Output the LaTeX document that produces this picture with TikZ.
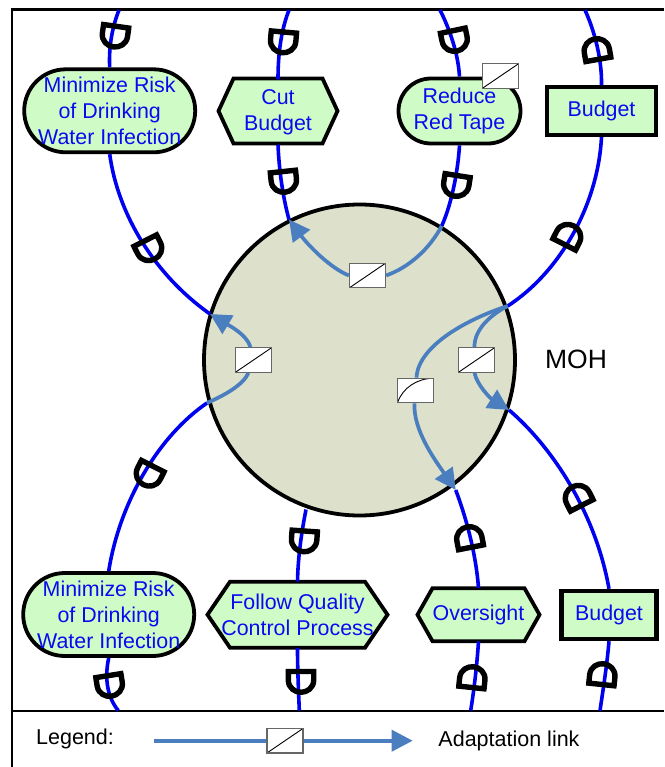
\documentclass[tikz,border=0pt]{standalone}
\usepackage{fontspec}
\setmainfont{Liberation Sans}
\usetikzlibrary{arrows.meta}
\definecolor{goalfill}{HTML}{CFFCC6}
\definecolor{mohfill}{HTML}{DDE1CC}
\definecolor{linkblue}{HTML}{0000F0}
\definecolor{adapt}{HTML}{4A7EBF}
\definecolor{textblue}{HTML}{0A0AF0}
\newcommand{\hexoutline}[5]{% cx cy w h inset
  \draw[draw=black,line width=3.8pt,fill=goalfill,line join=miter]
    ({#1-#3/2},#2) -- ({#1-#3/2+#5},{#2-#4/2}) -- ({#1+#3/2-#5},{#2-#4/2}) -- ({#1+#3/2},#2)
    -- ({#1+#3/2-#5},{#2+#4/2}) -- ({#1-#3/2+#5},{#2+#4/2}) -- cycle;}
\tikzset{
  goalbase/.style={text=textblue,align=center,inner sep=0pt,
    font=\fontsize{21.4}{26}\selectfont},
  softgoal/.style 2 args={goalbase,draw=black,line width=3.8pt,fill=goalfill,rectangle,rounded corners=#2,minimum width=#1,minimum height=2*#2},
  hexgoal/.style 2 args={goalbase,rectangle,minimum width=#1,minimum height=#2},
  resource/.style 2 args={goalbase,draw=black,fill=goalfill,rectangle,line width=4.4pt,minimum width=#1,minimum height=#2},
  dep/.style={draw=linkblue,line width=3.6pt},
  adaptlink/.style={draw=adapt,line width=3.7pt},
  adapthead/.style={adaptlink,-{Triangle[length=21pt,width=21pt]}},
  lawbox/.style={rectangle,draw=black!60,line width=1.2pt,fill=white,minimum width=36pt,minimum height=24.5pt,inner sep=0pt},
  linbox/.style={lawbox,path picture={\draw[black,line width=0.9pt]
     (path picture bounding box.south west) -- (path picture bounding box.north east);}},
  curvebox/.style={lawbox,path picture={\draw[black,line width=0.9pt]
     (path picture bounding box.south west) .. controls ([xshift=5pt,yshift=15pt]path picture bounding box.south west)
     and ([xshift=-16pt]path picture bounding box.north east) .. (path picture bounding box.north east);}},
  dmark/.pic={\draw[black,line width=5.4pt,line join=round]
     (-15.3,-10.5) -- (15.3,-10.5)
     (-12.7,-10.5) -- (-12.7,-2) .. controls (-12.7,6) and (-6,10.3) .. (0,10.3)
     .. controls (6,10.3) and (12.7,6) .. (12.7,-2) -- (12.7,-10.5);},
  framerule/.style={draw=black,line width=2.2pt},
  plaintext/.style={text=black,inner sep=0pt}
}
\begin{document}
\begin{tikzpicture}[x=1pt,y=-1pt]
\useasboundingbox (0,0) rectangle (664,767);
\fill[white] (0,0) rectangle (664,767);
% frame
\coordinate (ftl) at (12,9.5); \coordinate (ftr) at (664,9.5);
\coordinate (fbl) at (12,767); \coordinate (fml) at (12,710.6); \coordinate (fmr) at (664,710.6);
\draw[framerule] (ftr) -- (ftl) -- (fbl);
\draw[framerule] (fml) -- (fmr);
% actor
\node[circle,draw=black,line width=3.8pt,fill=mohfill,minimum size=311pt,inner sep=0pt] (moh) at (359.5,360) {};
\node[plaintext,font=\fontsize{26.5}{30}\selectfont] (mohlabel) at (576,359) {MOH};
% goals
\node[softgoal={171pt}{41.5pt}] (g1) at (109.7,110.8) {Minimize Risk\\of Drinking\\Water Infection};
\hexoutline{278}{111}{119}{65}{15}
\node[hexgoal={119pt}{65pt}] (cut) at (278,112) {Cut\\Budget};
\node[softgoal={122pt}{32.5pt}] (red) at (459.5,111) {Reduce\\Red Tape};
\node[resource={109pt}{47.5pt}] (bud1) at (601.5,111) {\raisebox{-1.5pt}{Budget}};
\node[softgoal={171pt}{41.5pt}] (g2) at (108.7,614.5) {Minimize Risk\\of Drinking\\Water Infection};
\hexoutline{297.5}{614.7}{180}{66}{22.5}
\node[hexgoal={180pt}{66pt}] (fol) at (297.5,614.7) {Follow Quality\\Control Process};
\hexoutline{478.5}{614.7}{122}{53}{15}
\node[hexgoal={122pt}{53pt}] (ove) at (478.5,614.7) {\raisebox{-1pt}{Oversight}};
\node[resource={95pt}{48pt}] (bud2) at (609,615) {\raisebox{-2pt}{Budget}};
% free ends and points on the actor boundary
\coordinate (t1) at (119,10); \coordinate (t2) at (289,10); \coordinate (t3) at (440,10); \coordinate (t4) at (585,10);
\coordinate (b1) at (118.3,710.6); \coordinate (b2) at (299.3,710.6); \coordinate (b3) at (470.7,710.6); \coordinate (b4) at (600,710.6);
\coordinate (m1) at (210,314); \coordinate (m2) at (289,219.5); \coordinate (m3) at (441.7,226);
\coordinate (m4) at (507.7,306); \coordinate (m5) at (509,410); \coordinate (m6) at (455.7,490);
\coordinate (m7) at (306,509.5); \coordinate (m8) at (207,403);
% dependency links
\draw[dep] (t1) .. controls (113,25) and (108.5,45) .. (g1.north);
\draw[dep] (g1.south) .. controls (118,215) and (155,275) .. (m1);
\draw[dep] (t2) .. controls (282,28) and (278,50) .. (cut.north);
\draw[dep] (cut.south) .. controls (279,170) and (283,198) .. (m2);
\draw[dep] (t3) .. controls (449,28) and (458,52) .. (red.north);
\draw[dep] (red.south) .. controls (458,170) and (452,203) .. (m3);
\draw[dep] (t4) .. controls (594,30) and (602,58) .. (bud1.north);
\draw[dep] (bud1.south) .. controls (598,205) and (560,272) .. (m4);
\draw[dep] (m5) .. controls (550,445) and (595,510) .. (bud2.north);
\draw[dep] (bud2.south) .. controls (607,665) and (603,690) .. (b4);
\draw[dep] (m6) .. controls (467,520) and (476,555) .. (ove.north);
\draw[dep] (ove.south) .. controls (477,665) and (474,690) .. (b3);
\draw[dep] (m7) .. controls (302,530) and (298,555) .. (fol.north);
\draw[dep] (fol.south) .. controls (297.5,670) and (298.5,690) .. (b2);
\draw[dep] (g2.north) .. controls (120,500) and (160,435) .. (m8);
\draw[dep] (g2.south) .. controls (104,680) and (108,698) .. (b1);
% dependency marks
\pic[rotate=-8] at (114.7,36.7) {dmark};
\pic[rotate=-5] at (283,42.5) {dmark};
\pic[rotate=6] at (284,182) {dmark};
\pic[rotate=27] at (150,250) {dmark};
\pic[rotate=12] at (455,41) {dmark};
\pic[rotate=-9] at (456,186) {dmark};
\pic[rotate=190] at (596.5,49) {dmark};
\pic[rotate=153] at (569,235) {dmark};
\pic[rotate=207] at (577,496) {dmark};
\pic[rotate=191] at (469,537) {dmark};
\pic[rotate=174] at (472.5,677) {dmark};
\pic[rotate=174] at (602.5,674) {dmark};
\pic[rotate=-4] at (304,541.5) {dmark};
\pic[rotate=0] at (301,682) {dmark};
\pic[rotate=9] at (110,686) {dmark};
\pic[rotate=-27] at (148,475.5) {dmark};
% adaptation boxes
\node[linbox] (redbox) at (500.5,76) {};
\node[linbox] (boxc) at (367.5,275.5) {};
\node[linbox] (boxl) at (253.5,360) {};
\node[linbox] (boxr) at (476.5,360) {};
\node[curvebox] (boxq) at (415.5,390.5) {};
% adaptation links
\draw[adaptlink] (m3) .. controls (430,248) and (410,267) .. (boxc.east);
\draw[adapthead] (boxc.west) .. controls (330,268) and (308,245) .. (m2);
\draw[adaptlink] (m8) .. controls (225,395) and (243,385) .. ([xshift=-5pt]boxl.south);
\draw[adapthead] ([xshift=-3pt]boxl.north) .. controls (247,335) and (230,326) .. (m1);
\draw[adaptlink] (m4) .. controls (490,315) and (474,330) .. ([xshift=-2pt]boxr.north);
\draw[adapthead] ([xshift=-2pt]boxr.south) .. controls (477,385) and (490,398) .. (m5);
\draw[adaptlink] (m4) .. controls (470,318) and (418,345) .. ([xshift=1pt]boxq.north);
\draw[adapthead] ([xshift=-1pt]boxq.south) .. controls (413,430) and (435,460) .. (m6);
% legend
\node[plaintext,font=\fontsize{21.5}{26}\selectfont] (leg) at (75,739) {Legend:};
\coordinate (ls) at (154,740.7); \coordinate (le) at (412.7,740.7);
\node[linbox] (legbox) at (285,740.7) {};
\draw[adaptlink] (ls) -- (legbox.west);
\draw[adapthead] (legbox.east) -- (le);
\node[plaintext,font=\fontsize{21.5}{26}\selectfont] (legtxt) at (509,740.5) {Adaptation link};
\end{tikzpicture}
\end{document}
